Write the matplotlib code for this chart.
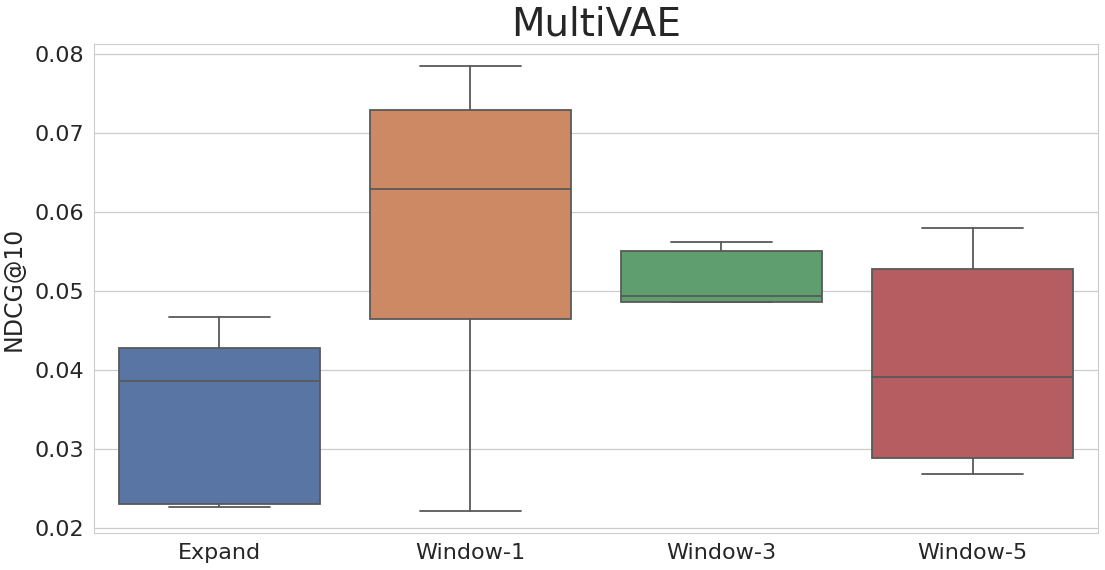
import matplotlib
matplotlib.use("Agg")
import matplotlib.pyplot as plt
import seaborn as sns

# NDCG@10 per split strategy (5 runs each)
categories = ["Expand", "Window-1", "Window-3", "Window-5"]
expand  = [0.0227, 0.0231, 0.0386, 0.0428, 0.0467]
window1 = [0.0222, 0.0465, 0.0629, 0.0729, 0.0785]
window3 = [0.04865, 0.0487, 0.0494, 0.0551, 0.0563]
window5 = [0.0268, 0.0289, 0.0391, 0.0528, 0.0580]
colors  = ["#5975a4", "#cc8963", "#5f9e6e", "#b55d60"]

sns.set_style("whitegrid")
plt.rcParams["font.family"] = ["DejaVu Sans"]

LINE = "#595959"
TEXT = "#262626"

fig, ax = plt.subplots(figsize=(11.05, 5.7), dpi=100)
fig.subplots_adjust(left=0.085, right=0.9937, top=0.9228, bottom=0.0649)

bp = ax.boxplot([expand, window1, window3, window5], positions=range(len(categories)),
                widths=0.8, patch_artist=True, whis=1.5, showfliers=False,
                medianprops=dict(color=LINE, linewidth=1.3),
                whiskerprops=dict(color=LINE, linewidth=1.3),
                capprops=dict(color=LINE, linewidth=1.3),
                boxprops=dict(edgecolor=LINE, linewidth=1.3))
for patch, c in zip(bp["boxes"], colors):
    patch.set_facecolor(c)

ax.set_xlim(-0.5, len(categories) - 0.5)
ax.set_xticks(range(len(categories)))
ax.set_xticklabels(categories)
ax.xaxis.grid(False)
ax.yaxis.grid(True, color="#cccccc", linewidth=0.9)
ax.set_axisbelow(True)
for sp in ax.spines.values():
    sp.set_edgecolor("#cccccc")
ax.tick_params(labelsize=16, colors=TEXT, length=0, pad=7)
ax.set_ylabel("NDCG@10", fontsize=17, color=TEXT, labelpad=6)
ax.set_title("MultiVAE", fontsize=28, color=TEXT)

fig.savefig("out.png", dpi=100)
